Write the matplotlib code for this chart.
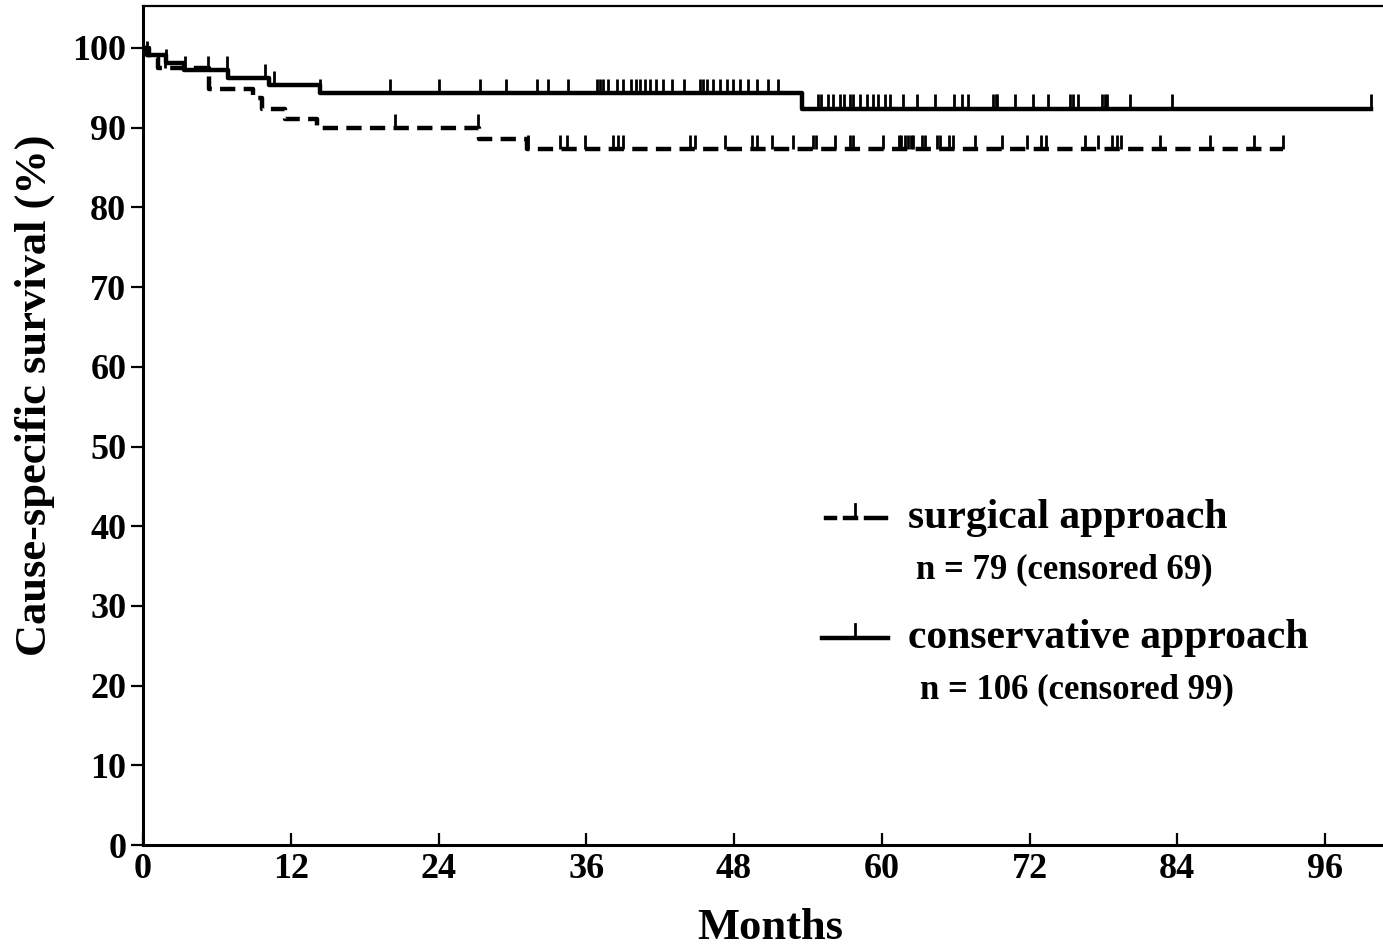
import numpy as np
import matplotlib
matplotlib.use("Agg")
import matplotlib.pyplot as plt
from matplotlib.lines import Line2D

# ---------------- data ----------------
surg_times = [0, 0.5, 1.2, 5.4, 8.9, 9.7, 11.5, 14.1, 27.3, 31.2]
surg_surv = [100, 98.7, 97.5, 94.9, 93.7, 92.4, 91.1, 89.9, 88.6, 87.3]
surg_end = 92.6
surg_censor = [1.8, 20.5, 27.2, 31.3, 33.9, 34.4, 35.9, 38.2, 38.6, 39.0,
               44.4, 44.8, 47.3, 49.5, 49.9, 51.1, 52.8, 54.4, 54.7, 56.2,
               57.4, 57.7, 60.1, 61.4, 61.6, 61.9, 62.1, 62.4, 62.5, 63.3,
               63.5, 64.5, 64.7, 65.5, 65.8, 67.6, 69.8, 71.8, 72.9, 73.3,
               76.5, 77.6, 78.7, 79.1, 79.4, 82.6, 86.7, 90.2, 92.6]

cons_times = [0, 0.3, 1.9, 3.3, 6.9, 10.2, 14.4, 53.5]
cons_surv = [100, 99.1, 98.1, 97.2, 96.2, 95.3, 94.3, 92.4]
cons_end = 99.7
cons_censor = [0.3, 1.9, 3.4, 5.3, 6.8, 9.9, 10.6, 14.4, 20.1, 24.0, 27.4,
               29.5, 32.0, 32.9, 34.5, 36.9, 37.1, 37.4, 37.8, 38.5, 39.0,
               39.6, 40.0, 40.4, 40.8, 41.2, 41.7, 42.2, 43.0, 43.9, 45.2,
               45.5, 45.8, 46.3, 46.9, 47.4, 47.9, 48.5, 49.1, 49.9, 50.8,
               51.6, 54.8, 55.1, 55.6, 56.0, 56.6, 56.9, 57.4, 57.7, 58.2,
               58.8, 59.3, 59.7, 60.3, 60.7, 61.7, 62.9, 64.3, 65.9, 66.5,
               67.0, 69.0, 69.3, 69.4, 70.8, 72.3, 73.5, 75.3, 75.5, 75.9,
               77.9, 78.1, 78.3, 80.2, 83.6, 99.7]

x_ticks = [0, 12, 24, 36, 48, 60, 72, 84, 96]
y_ticks = [0, 10, 20, 30, 40, 50, 60, 70, 80, 90, 100]

labels = ["surgical approach", "conservative approach"]
n_labels = ["n = 79 (censored 69)", "n = 106 (censored 99)"]

# ---------------- style ----------------
plt.rcParams['font.family'] = ['Liberation Serif', 'DejaVu Serif']
plt.rcParams['font.weight'] = 'bold'
plt.rcParams['lines.scale_dashes'] = False

fig = plt.figure(figsize=(13.83, 9.48), dpi=100)
ax = fig.add_axes([143 / 1383, 103 / 948, 1 - 143 / 1383, (845 - 6) / 948])

xmax = (1383 - 143) / 12.3125
ymax = (845 - 6) / 7.97
ax.set_xlim(0, xmax)
ax.set_ylim(0, ymax)

tick_h = 1.8
DASH = (0, (11, 6))


def km_curve(times, surv, end):
    t = list(times) + [end]
    s = list(surv) + [surv[-1]]
    return np.array(t), np.array(s)


def surv_at(times, surv, tc):
    idx = np.searchsorted(np.array(times), np.array(tc), side='right') - 1
    return np.array(surv)[idx]


# surgical (dashed)
st, ss = km_curve(surg_times, surg_surv, surg_end)
ax.step(st, ss, where='post', color='black', lw=3.2, linestyle=DASH,
        solid_capstyle='butt', dash_capstyle='butt')
sc = surv_at(surg_times, surg_surv, surg_censor)
ax.vlines(surg_censor, sc, sc + tick_h, color='black', lw=2.0)

# conservative (solid)
ct, cs = km_curve(cons_times, cons_surv, cons_end)
ax.step(ct, cs, where='post', color='black', lw=3.2)
cc = surv_at(cons_times, cons_surv, cons_censor)
ax.vlines(cons_censor, cc, cc + tick_h, color='black', lw=2.0)

# axes styling
ax.spines['right'].set_visible(False)
ax.spines['left'].set_linewidth(2.2)
ax.spines['bottom'].set_linewidth(2.2)
ax.spines['top'].set_linewidth(1.6)

ax.set_xticks(x_ticks)
ax.set_yticks(y_ticks)
ax.set_xticklabels([str(v) for v in x_ticks])
ax.set_yticklabels([str(v) for v in y_ticks])
ax.tick_params(axis='x', direction='in', length=9, width=1.6, pad=6,
               labelsize=26, top=False)
ax.tick_params(axis='y', direction='out', length=9, width=1.6, pad=3,
               labelsize=26, right=False)
for lab in ax.get_xticklabels() + ax.get_yticklabels():
    lab.set_fontweight('bold')

ax.set_xlabel("Months", fontsize=32, fontweight='bold')
ax.set_ylabel("Cause-specific survival (%)", fontsize=32, fontweight='bold')
ax.xaxis.set_label_coords((770 - 143) / 1240, (845 - 928) / 839)
ax.yaxis.set_label_coords((35 - 143) / 1240, (845 - 395) / 839)
ax.xaxis.label.set_va('center')
ax.yaxis.label.set_va('center')


def fx(px):
    return (px - 143) / 1240


def fy(py):
    return (845 - py) / 839


# legend drawn manually
tr = ax.transAxes
for x0, x1 in [(826, 835), (845, 856), (866, 886)]:
    ax.add_line(Line2D([fx(x0), fx(x1)], [fy(518), fy(518)], transform=tr,
                       color='black', lw=3.2, clip_on=False))
ax.add_line(Line2D([fx(855), fx(855)], [fy(518), fy(504)], transform=tr,
                   color='black', lw=2.0, clip_on=False))

ax.add_line(Line2D([fx(822), fx(888)], [fy(638), fy(638)], transform=tr,
                   color='black', lw=3.2, clip_on=False))
ax.add_line(Line2D([fx(855), fx(855)], [fy(638), fy(624)], transform=tr,
                   color='black', lw=2.0, clip_on=False))

ax.text(fx(908), fy(518), labels[0], transform=tr, fontsize=30,
        fontweight='bold', va='center', ha='left')
ax.text(fx(916), fy(570), n_labels[0], transform=tr, fontsize=25,
        fontweight='bold', va='center', ha='left')
ax.text(fx(908), fy(638), labels[1], transform=tr, fontsize=30,
        fontweight='bold', va='center', ha='left')
ax.text(fx(920), fy(690), n_labels[1], transform=tr, fontsize=25,
        fontweight='bold', va='center', ha='left')

fig.savefig("out.png", dpi=100)
